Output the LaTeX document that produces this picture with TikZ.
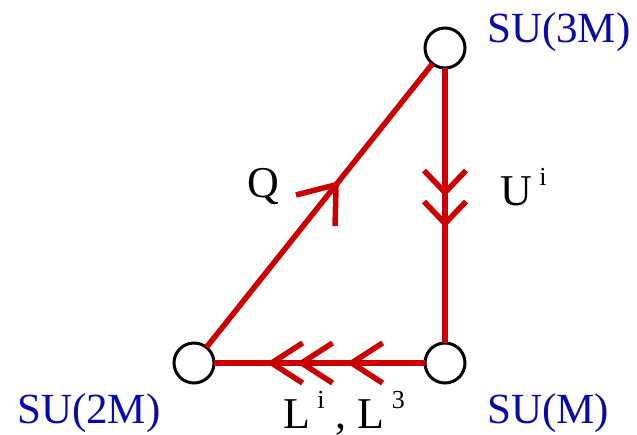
\documentclass[tikz,border=0pt]{standalone}
\usepackage{fontspec}
\setmainfont{Liberation Serif}
\definecolor{linkred}{HTML}{CC0000}
\definecolor{groupblue}{HTML}{0A0AAA}
\usetikzlibrary{arrows.meta, decorations.markings}

\newcommand{\upidx}[1]{\raisebox{20pt}{\fontsize{26}{26}\selectfont #1}}

\begin{document}
\begin{tikzpicture}[x=1pt, y=-1pt,
		group/.style={circle, draw=black, line width=3pt, fill=white, minimum size=40pt, inner sep=0pt, outer sep=0pt},
		link/.style={draw=linkred, line width=5.5pt, postaction={decorate}},
		grouplabel/.style={text=groupblue, font=\fontsize{43}{48}\selectfont, inner sep=0pt, anchor=base west},
		fieldlabel/.style={font=\fontsize{44}{48}\selectfont, inner sep=0pt, anchor=base west},
		qtip/.tip={Straight Barb[length=33pt, width=50pt]},
		utip/.tip={Straight Barb[length=22pt, width=42pt]},
		ltip/.tip={Straight Barb[length=31pt, width=40pt]}
	]
	\useasboundingbox (0,0) rectangle (637,435);

	% Gauge groups
	\node[group] (top) at (445,48) {};
	\node[group] (left) at (194,363) {};
	\node[group] (right) at (445,363) {};

	\node[grouplabel] (toplabel) at (487,43) {SU(3M)};
	\node[grouplabel] (leftlabel) at (17,423) {SU(2M)};
	\node[grouplabel] (rightlabel) at (487,423) {SU(M)};

	% Links
	\draw[link, decoration={markings, mark=at position 212.5pt with {\arrow{qtip}}}] (left) -- (top);
	\draw[link, decoration={markings,
		mark=at position 128.5pt with {\arrow{utip}},
		mark=at position 159.5pt with {\arrow{utip}}}] (top) -- (right);
	\draw[link, decoration={markings,
		mark=at position 78.5pt with {\arrow{ltip}},
		mark=at position 128.5pt with {\arrow{ltip}},
		mark=at position 158.5pt with {\arrow{ltip}}}] (right) -- (left);

	% Fields
	\node[fieldlabel] (q) at (247,198) {Q};
	\node[fieldlabel] (u) at (500,206) {U\,\upidx{i}};
	\node[fieldlabel] (l) at (283,428) {L\,\upidx{i} , L\,\upidx{3}};
\end{tikzpicture}
\end{document}
